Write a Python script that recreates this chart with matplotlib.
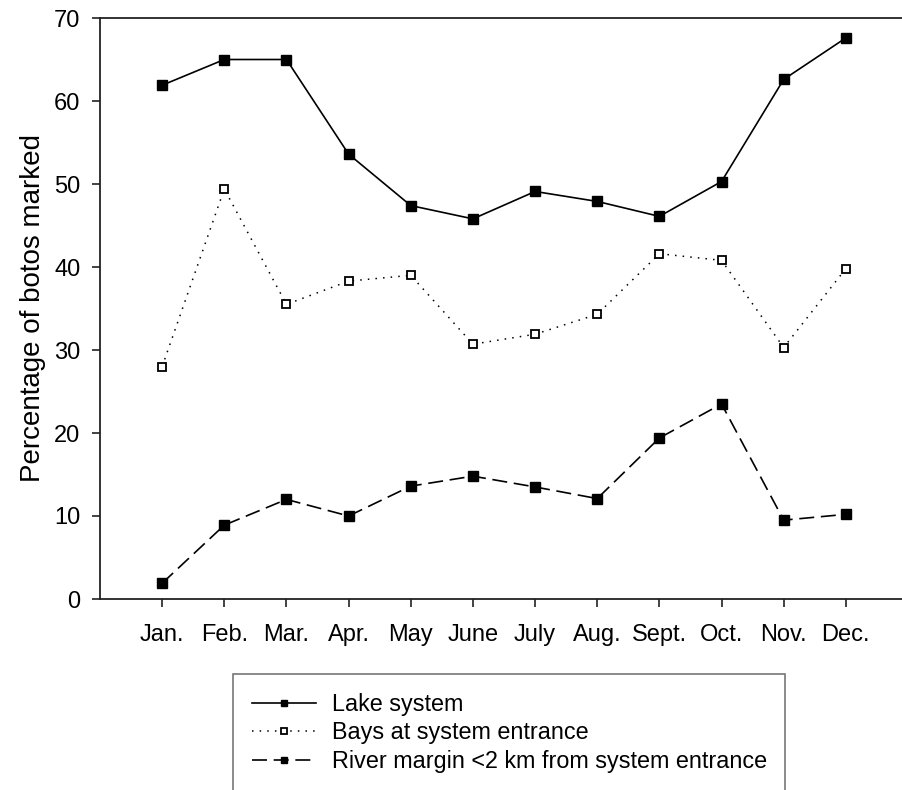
import matplotlib
matplotlib.use("Agg")
import matplotlib.pyplot as plt

plt.rcParams['font.family'] = ['Liberation Sans', 'DejaVu Sans']

months = ["Jan.", "Feb.", "Mar.", "Apr.", "May", "June", "July", "Aug.", "Sept.", "Oct.", "Nov.", "Dec."]
lake = [61.9, 65.0, 65.0, 53.6, 47.4, 45.8, 49.1, 47.9, 46.1, 50.3, 62.6, 67.6]
bays = [28.0, 49.4, 35.5, 38.3, 39.0, 30.7, 31.9, 34.3, 41.6, 40.8, 30.3, 39.8]
river = [1.9, 8.9, 12.0, 10.0, 13.6, 14.8, 13.5, 12.1, 19.4, 23.5, 9.5, 10.2]
labels = ["Lake system", "Bays at system entrance", "River margin <2 km from system entrance"]

W, H = 902, 790
fig = plt.figure(figsize=(W / 100, H / 100), dpi=100)
ax = fig.add_axes([100 / W, 1 - 599 / H, 808 / W, 581 / H])

x = list(range(1, len(months) + 1))
l1, = ax.plot(x, lake, color='black', lw=1.2, marker='s', ms=6.5, mfc='black', mec='black')
l2, = ax.plot(x, bays, color='black', lw=1.1, ls=(0, (1, 4)), marker='s', ms=6, mfc='white', mec='black', mew=1.3)
l3, = ax.plot(x, river, color='black', lw=1.2, ls=(0, (9, 4)), marker='s', ms=6.5, mfc='black', mec='black')

ax.set_xlim(0, 13)
ax.set_ylim(0, 70)
ax.set_xticks(x)
ax.set_xticklabels(months)
ax.set_yticks(range(0, 71, 10))
for s in ax.spines.values():
    s.set_linewidth(1.3)
    s.set_color('#222222')
ax.tick_params(axis='both', direction='out', length=6, width=1.2, labelsize=17, color='#222222')
ax.tick_params(axis='x', pad=12)
ax.tick_params(axis='y', pad=8)
ax.set_ylabel("Percentage of botos marked", fontsize=20, labelpad=6)

leg = fig.legend([l1, l2, l3], labels, loc='upper left',
                 bbox_to_anchor=(233 / W, 1 - 674 / H), bbox_transform=fig.transFigure,
                 fancybox=False, frameon=True, fontsize=16.8, handlelength=2.75,
                 handletextpad=0.68, labelspacing=0.24, borderpad=0.8, borderaxespad=0,
                 markerscale=0.75)
leg.get_frame().set_edgecolor('#555555')
leg.get_frame().set_linewidth(1.2)

fig.savefig("out.png", dpi=100)
